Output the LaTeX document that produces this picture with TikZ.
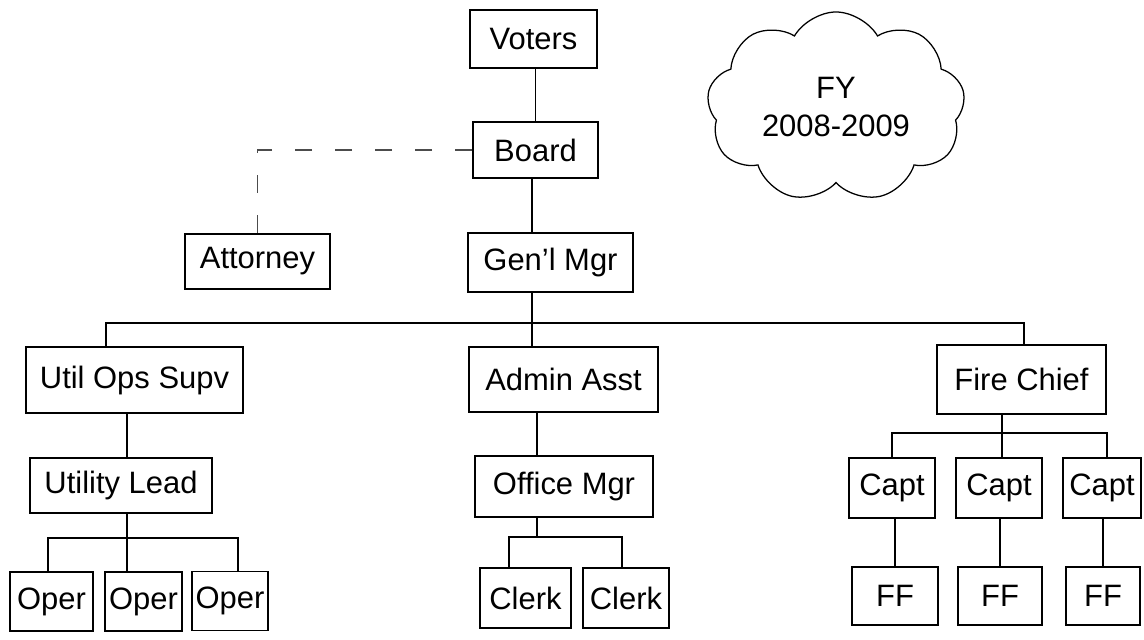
\documentclass[tikz,border=0pt]{standalone}
\usepackage{fontspec}
\setmainfont{Liberation Sans}
\usepackage{tikz}
\usetikzlibrary{shapes.symbols, positioning, calc}
\tikzset{
  post/.style={
    rectangle, draw=black, line width=1.1pt, inner sep=0pt,
    text centered, font=\fontsize{22}{26}\selectfont
  },
  note/.style={
    cloud, draw=black, line width=0.9pt, cloud puffs=9, cloud puff arc=120,
    cloud ignores aspect, align=center, inner sep=0pt,
    font=\fontsize{22}{27}\selectfont
  },
  link/.style={
    draw=black, line width=1.2pt
  },
  advisory/.style={
    draw=black!70, line width=1.1pt, dash pattern=on 0.43cm off 0.57cm
  }
}

\begin{document}
\begin{tikzpicture}[x=0.025cm, y=-0.025cm]
\useasboundingbox (0,0) rectangle (1144,639);

% top of the chart
\node[post, minimum width=3.18cm, minimum height=1.45cm] (voters) at (533.5,39) {Voters};
\node[post, minimum width=3.13cm, minimum height=1.4cm] (board) at (535.5,150) {Board};
\node[post, minimum width=3.63cm, minimum height=1.38cm] (attorney) at (257.5,261.5) {Attorney};
\node[post, minimum width=4.13cm, minimum height=1.48cm] (genmgr) at (550.5,262.5) {Gen'l Mgr};
\node[note, minimum width=6.45cm, minimum height=4.75cm] (fy) at (836,107) {FY\\2008-2009};

% departments
\node[post, minimum width=5.43cm, minimum height=1.65cm] (uos) at (134.5,380) {Util Ops Supv};
\node[post, minimum width=4.73cm, minimum height=1.63cm] (admin) at (563.5,379.5) {Admin Asst};
\node[post, minimum width=4.23cm, minimum height=1.73cm] (chief) at (1021.5,379.5) {Fire Chief};

% second level
\node[post, minimum width=4.55cm, minimum height=1.38cm] (lead) at (121,485.5) {Utility Lead};
\node[post, minimum width=4.45cm, minimum height=1.53cm] (office) at (564,486.5) {Office Mgr};
\node[post, minimum width=2.15cm, minimum height=1.5cm] (capt1) at (892,488) {Capt};
\node[post, minimum width=2.15cm, minimum height=1.5cm] (capt2) at (999,488) {Capt};
\node[post, minimum width=1.95cm, minimum height=1.5cm] (capt3) at (1102,488) {Capt};

% bottom row
\node[post, minimum width=2.08cm, minimum height=1.48cm] (oper1) at (51.5,601.5) {Oper};
\node[post, minimum width=1.93cm, minimum height=1.48cm] (oper2) at (143.5,601.5) {Oper};
\node[post, minimum width=1.9cm, minimum height=1.48cm] (oper3) at (230,601) {Oper};
\node[post, minimum width=2.28cm, minimum height=1.5cm] (clerk1) at (525.5,598) {Clerk};
\node[post, minimum width=2.15cm, minimum height=1.5cm] (clerk2) at (626,598) {Clerk};
\node[post, minimum width=2.15cm, minimum height=1.45cm] (ff1) at (895,596) {FF};
\node[post, minimum width=2.1cm, minimum height=1.45cm] (ff2) at (1000,596) {FF};
\node[post, minimum width=1.85cm, minimum height=1.45cm] (ff3) at (1103,596) {FF};

% bus lines
\coordinate (topbus) at (532,323);
\coordinate (busW) at (106,323);
\coordinate (busE) at (1024,323);
\coordinate (opsbus) at (127,538);
\coordinate (operW) at (48,538);
\coordinate (operE) at (238,538);
\coordinate (officebus) at (537,537);
\coordinate (clerkW) at (509,537);
\coordinate (clerkE) at (622,537);
\coordinate (firebus) at (1002,433);
\coordinate (captW) at (892,433);
\coordinate (captE) at (1107,433);

\draw[link] (voters.south -| board.north) -- (board.north);
\draw[link] (board.south -| topbus) -- (genmgr.north -| topbus);
\draw[advisory] (board.west) -| (attorney.north);
\draw[link] (genmgr.south -| topbus) -- (admin.north -| topbus);
\draw[link] (busW |- uos.north) -- (busW) -- (busE) -- (busE |- chief.north);

\draw[link] (uos.south -| opsbus) -- (lead.north -| opsbus);
\draw[link] (lead.south -| opsbus) -- (oper2.north -| opsbus);
\draw[link] (operW |- oper1.north) -- (operW) -- (operE) -- (operE |- oper3.north);

\draw[link] (admin.south -| officebus) -- (office.north -| officebus);
\draw[link] (office.south -| officebus) -- (officebus);
\draw[link] (clerkW |- clerk1.north) -- (clerkW) -- (clerkE) -- (clerkE |- clerk2.north);

\draw[link] (chief.south -| firebus) -- (capt2.north -| firebus);
\draw[link] (captW |- capt1.north) -- (captW) -- (captE) -- (captE |- capt3.north);
\draw[link] (capt1.south -| ff1.north) -- (ff1.north);
\draw[link] (capt2.south -| ff2.north) -- (ff2.north);
\draw[link] (capt3.south -| ff3.north) -- (ff3.north);
\end{tikzpicture}
\end{document}
